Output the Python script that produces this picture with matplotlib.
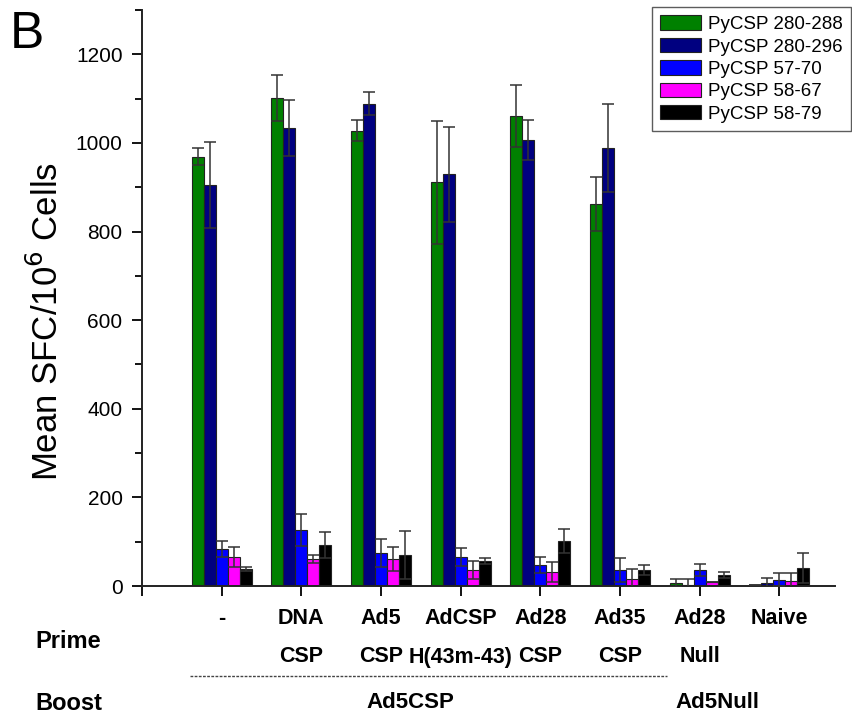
import matplotlib
matplotlib.use("Agg")
import matplotlib.pyplot as plt
from matplotlib.ticker import MultipleLocator
from matplotlib.transforms import blended_transform_factory
import numpy as np

plt.rcParams['font.family'] = ['Liberation Sans', 'DejaVu Sans']

prime_top = ["-", "DNA", "Ad5", "AdCSP", "Ad28", "Ad35", "Ad28", "Naive"]
prime_bottom = ["", "CSP", "CSP", "H(43m-43)", "CSP", "CSP", "Null", ""]

series = ["PyCSP 280-288", "PyCSP 280-296", "PyCSP 57-70", "PyCSP 58-67", "PyCSP 58-79"]
colors = ["#008000", "#000080", "#0000ff", "#ff00ff", "#000000"]

# mean SFC per series, one value per group
means_280_288 = [969, 1101, 1028, 911, 1060, 863, 7, 2]
means_280_296 = [906, 1033, 1089, 929, 1006, 988, 3, 7]
means_57_70 = [84, 127, 75, 66, 47, 36, 36, 14]
means_58_67 = [66, 61, 61, 36, 32, 16, 9, 11]
means_58_79 = [38, 93, 70, 56, 102, 36, 25, 41]

err_280_288 = [19, 52, 23, 138, 70, 61, 9, 0]
err_280_296 = [97, 63, 25, 108, 45, 99, 13, 11]
err_57_70 = [18, 36, 31, 20, 18, 27, 14, 15]
err_58_67 = [22, 9, 27, 20, 22, 22, 0, 18]
err_58_79 = [4, 29, 54, 7, 27, 11, 7, 34]

means = [means_280_288, means_280_296, means_57_70, means_58_67, means_58_79]
errs = [err_280_288, err_280_296, err_57_70, err_58_67, err_58_79]

fig = plt.figure(figsize=(8.53, 7.2), dpi=100)
ax = fig.add_axes([0.1665, 0.1861, 0.979 - 0.1665, 0.986 - 0.1861])

x = np.arange(len(prime_top))
width = 0.15
for i, (m, e, c, name) in enumerate(zip(means, errs, colors, series)):
    pos = x + (i - 2) * width
    ax.bar(pos, m, width, color=c, edgecolor="#222222", linewidth=0.8, label=name, zorder=2)
    ax.errorbar(pos, m, yerr=e, fmt="none", ecolor="#333333", elinewidth=1.1,
                capsize=4.5, capthick=1.1, zorder=3)

ax.set_xlim(-1, 7.7)
ax.set_ylim(0, 1300)
ax.yaxis.set_major_locator(MultipleLocator(200))
ax.yaxis.set_minor_locator(MultipleLocator(100))
ax.set_xticks([-1] + list(x))
ax.set_xticklabels([""] * (len(x) + 1))
ax.tick_params(axis="both", direction="out", length=7, width=1.3, labelsize=15)
ax.tick_params(axis="y", pad=7)
ax.tick_params(axis="y", which="minor", direction="out", length=5, width=1.3)
for s in ["top", "right"]:
    ax.spines[s].set_visible(False)
for s in ["left", "bottom"]:
    ax.spines[s].set_linewidth(1.4)
    ax.spines[s].set_color("#222222")

ax.set_ylabel("Mean SFC/10$^6$ Cells", fontsize=25)
ax.yaxis.set_label_coords(-0.111, 0.46)

# group labels under the axis
tr = blended_transform_factory(ax.transData, fig.transFigure)
for xi, top, bot in zip(x, prime_top, prime_bottom):
    ax.text(xi, 1 - 619 / 720, top, transform=tr, ha="center", va="center",
            fontsize=15.5, fontweight="bold")
    if bot:
        ax.text(xi, 1 - 657 / 720, bot, transform=tr, ha="center", va="center",
                fontsize=15.5, fontweight="bold")

fig.text(35 / 853, 1 - 642 / 720, "Prime", ha="left", va="center", fontsize=17, fontweight="bold")
fig.text(35 / 853, 1 - 703 / 720, "Boost", ha="left", va="center", fontsize=17, fontweight="bold")
fig.text(410 / 853, 1 - 703 / 720, "Ad5CSP", ha="center", va="center", fontsize=16, fontweight="bold")
fig.text(717 / 853, 1 - 703 / 720, "Ad5Null", ha="center", va="center", fontsize=16, fontweight="bold")
fig.add_artist(plt.Line2D([190 / 853, 667 / 853], [1 - 676 / 720, 1 - 676 / 720],
                          transform=fig.transFigure, color="#444444", lw=1, ls=(0, (2, 1))))

fig.text(10 / 853, 1 - 10 / 720, "B", ha="left", va="top", fontsize=37)

leg = ax.legend(loc="upper right", bbox_to_anchor=(851 / 853, 1 - 7 / 720),
                bbox_transform=fig.transFigure, fontsize=13.5, frameon=True, fancybox=False,
                edgecolor="#333333", handlelength=2.2, handleheight=0.8,
                handletextpad=0.35, labelspacing=0.25, borderpad=0.45, borderaxespad=0)
leg.get_frame().set_linewidth(1.0)

fig.savefig("out.png", dpi=100)
